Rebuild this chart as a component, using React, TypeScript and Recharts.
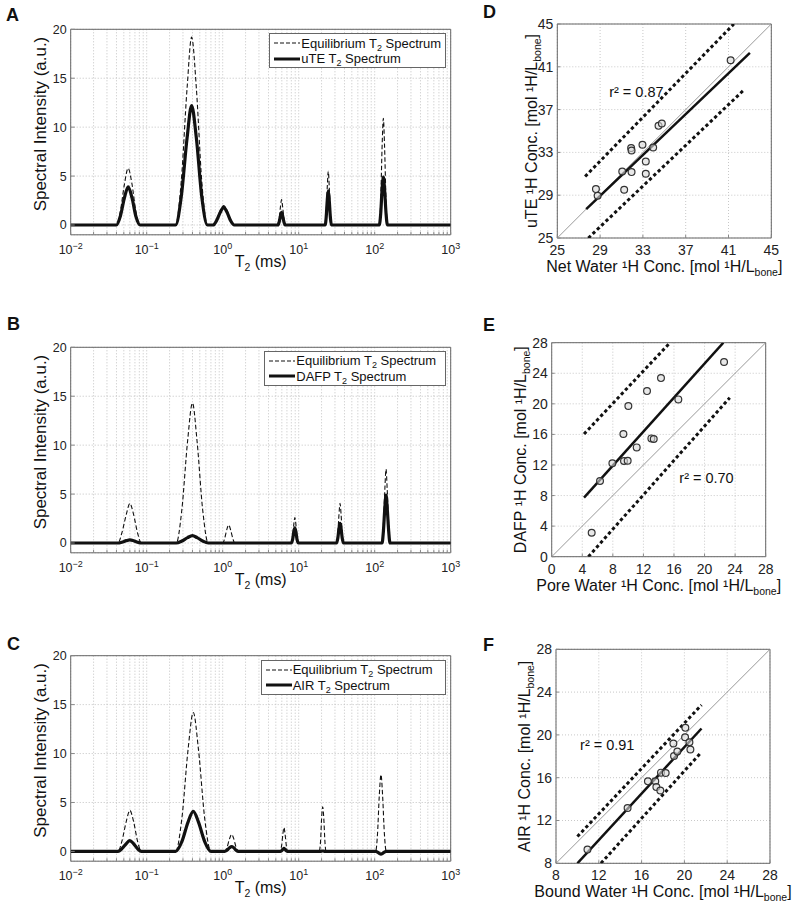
import React from "react";
import {
  LineChart,
  Line,
  ScatterChart,
  Scatter,
  XAxis,
  YAxis,
  CartesianGrid,
  ReferenceArea,
  ReferenceLine,
  Legend,
} from "recharts";

const FONT = "'Liberation Sans', Arial, Helvetica, sans-serif";

// ---- T2 spectra (T2 in ms, intensity in a.u.) ----
const T2_A = [0.01,
  0.040, 0.045, 0.051, 0.057, 0.064, 0.072, 0.082,
  0.24, 0.285, 0.34, 0.39, 0.45, 0.53, 0.63,
  0.75, 0.83, 0.93, 1.03, 1.14, 1.27, 1.42,
  5.33, 5.53, 5.76, 5.95, 6.14, 6.4, 6.6,
  22.3, 23.0, 23.8, 24.5, 25.2, 26.1, 26.9,
  115, 120, 125, 130, 135, 141, 147,
  1000];
const EQ_A = [0,
  0, 1.4, 4.2, 5.8, 4.2, 1.4, 0,
  0, 4.5, 14.0, 19.2, 14.0, 4.5, 0,
  0, 0.5, 1.5, 2.0, 1.5, 0.5, 0,
  0, 0.6, 1.9, 2.6, 1.9, 0.6, 0,
  0, 1.3, 4.0, 5.5, 4.0, 1.3, 0,
  0, 2.5, 7.9, 10.9, 7.9, 2.5, 0,
  0];
const UTE_A = [0,
  0, 0.9, 2.8, 3.9, 2.8, 0.9, 0,
  0, 2.9, 8.9, 12.2, 8.9, 2.9, 0,
  0, 0.45, 1.3, 1.8, 1.3, 0.45, 0,
  0, 0.3, 0.95, 1.3, 0.95, 0.3, 0,
  0, 0.8, 2.6, 3.5, 2.6, 0.8, 0,
  0, 1.2, 3.6, 4.9, 3.6, 1.2, 0,
  0];

const T2_B = [0.01,
  0.042, 0.047, 0.054, 0.060, 0.067, 0.076, 0.085,
  0.245, 0.29, 0.345, 0.40, 0.46, 0.545, 0.645,
  1.0, 1.06, 1.13, 1.2, 1.27, 1.36, 1.44,
  8.0, 8.33, 8.62, 8.9, 9.19, 9.5, 9.9,
  31.5, 32.7, 33.9, 35, 36.1, 37.4, 38.8,
  125, 130, 136, 141, 146, 153, 159,
  1000];
const EQ_B = [0,
  0, 1.0, 2.95, 4.05, 2.95, 1.0, 0,
  0, 3.4, 10.4, 14.3, 10.4, 3.4, 0,
  0, 0.45, 1.35, 1.85, 1.35, 0.45, 0,
  0, 0.6, 1.9, 2.6, 1.9, 0.6, 0,
  0, 0.95, 2.95, 4.05, 2.95, 0.95, 0,
  0, 1.8, 5.5, 7.55, 5.5, 1.8, 0,
  0];
const DAFP_B = [0,
  0, 0.08, 0.24, 0.32, 0.24, 0.08, 0,
  0, 0.2, 0.55, 0.75, 0.55, 0.2, 0,
  0, 0, 0, 0, 0, 0, 0,
  0, 0.38, 1.15, 1.55, 1.15, 0.38, 0,
  0, 0.48, 1.48, 2.0, 1.48, 0.48, 0,
  0, 1.15, 3.6, 4.9, 3.6, 1.15, 0,
  0];

const T2_C = [0.01,
  0.042, 0.047, 0.054, 0.060, 0.067, 0.076, 0.085,
  0.24, 0.29, 0.35, 0.41, 0.48, 0.58, 0.70,
  1.06, 1.14, 1.23, 1.31, 1.40, 1.5, 1.61,
  5.74, 5.96, 6.2, 6.4, 6.61, 6.87, 7.13,
  18.6, 19.4, 20.0, 20.7, 21.4, 22.1, 22.9,
  103, 109, 115, 121, 127, 134, 142,
  1000];
const EQ_C = [0,
  0, 1.0, 3.1, 4.2, 3.1, 1.0, 0,
  0, 3.35, 10.4, 14.2, 10.4, 3.35, 0,
  0, 0.42, 1.28, 1.75, 1.28, 0.42, 0,
  0, 0.6, 1.8, 2.45, 1.8, 0.6, 0,
  0, 1.08, 3.35, 4.55, 3.35, 1.08, 0,
  0, 1.85, 5.75, 7.85, 5.75, 1.85, 0,
  0];
const AIR_C = [0,
  0, 0.26, 0.8, 1.1, 0.8, 0.26, 0,
  0, 1.0, 3.0, 4.1, 3.0, 1.0, 0,
  0, 0.12, 0.37, 0.5, 0.37, 0.12, 0,
  0, 0.07, 0.22, 0.3, 0.22, 0.07, 0,
  0, 0, 0.03, 0.04, 0.03, 0, 0,
  0, -0.07, -0.2, -0.28, -0.2, -0.07, 0,
  0];

const DECADES = [0.01, 0.1, 1, 10, 100, 1000];
const MINOR = [1, 2, 3, 4, 5, 6, 7, 8, 9];
const LOG_TICKS = DECADES.flatMap((d) =>
  d === 1000 ? [d] : MINOR.map((m) => +(m * d).toPrecision(3))
);
const SPEC_Y_TICKS = [0, 5, 10, 15, 20];

// ---- concentration scatter panels [mol 1H / L_bone] ----
const D_X = [28.61, 28.77, 31.07, 31.25, 31.9, 31.94, 31.94, 32.96, 33.27, 33.27, 33.96, 34.46, 34.77, 41.2];
const D_Y = [29.57, 28.95, 31.22, 29.51, 33.4, 33.18, 31.16, 33.71, 32.15, 31.0, 33.46, 35.48, 35.7, 41.61];
const D_TICKS = [25, 29, 33, 37, 41, 45];
const D_FIT = [[27.7, 27.7], [43.0, 42.3]];
const D_UPPER = [[27.6, 30.75], [41.5, 45]];
const D_LOWER = [[27.9, 25], [42.4, 38.8]];

const E_X = [5.23, 6.32, 7.94, 9.38, 9.46, 9.94, 10.03, 11.12, 12.47, 13.04, 13.35, 14.3, 16.57, 22.55];
const E_Y = [3.14, 9.9, 12.21, 16.05, 12.52, 12.56, 19.71, 14.3, 21.67, 15.48, 15.39, 23.37, 20.58, 25.47];
const E_TICKS = [0, 4, 8, 12, 16, 20, 24, 28];
const E_FIT = [[4.23, 7.72], [22.46, 28]];
const E_UPPER = [[4.23, 16.05], [15.48, 28]];
const E_LOWER = [[4.8, 0], [23.3, 20.8]];

const F_X = [10.94, 14.69, 16.59, 17.28, 17.38, 17.75, 17.81, 18.25, 18.97, 19.03, 19.34, 20.06, 20.09, 20.47, 20.56];
const F_Y = [9.28, 13.16, 15.66, 15.66, 15.13, 14.81, 16.47, 16.44, 19.19, 18.03, 18.44, 19.78, 20.66, 19.31, 18.63];
const F_TICKS = [8, 12, 16, 20, 24, 28];
const F_FIT = [[10.0, 8.0], [21.6, 20.6]];
const F_UPPER = [[10.0, 10.5], [21.6, 22.8]];
const F_LOWER = [[12.2, 8.0], [21.6, 18.4]];

const PLOT_H = 205.5;
const SQ = 214;
const TICK_LINE = { stroke: "#888", strokeWidth: 1 };

function LogTick(props: any) {
  const { x, y, payload } = props;
  const lg = Math.log10(payload.value);
  const e = Math.round(lg);
  if (Math.abs(lg - e) > 1e-6) return <g />;
  return (
    <text x={x} y={y} dy="0.71em" textAnchor="middle" fontSize={12.5} fill="#222" fontFamily={FONT}>
      10<tspan dy={-5} fontSize={9}>{e < 0 ? "\u2212" + -e : e}</tspan>
    </text>
  );
}

function SpecLegend({ name, width }: { name: string; width: number }) {
  const row = { display: "flex", alignItems: "center", height: 15.6 } as const;
  const sub = { fontSize: 9, position: "relative", top: 3 } as const;
  return (
    <div
      style={{
        width,
        boxSizing: "border-box",
        border: "1px solid #666",
        background: "#fff",
        padding: "1px 0 1px 4px",
        fontFamily: FONT,
        fontSize: 13,
        color: "#111",
        whiteSpace: "nowrap",
      }}
    >
      <div style={row}>
        <svg width={27} height={6}>
          <line x1={0} y1={3} x2={26} y2={3} stroke="#111" strokeWidth={1.1} strokeDasharray="4 2" />
        </svg>
        <span>
          Equilibrium T<span style={sub}>2</span> Spectrum
        </span>
      </div>
      <div style={row}>
        <svg width={27} height={6}>
          <line x1={0} y1={3} x2={26} y2={3} stroke="#111" strokeWidth={3} />
        </svg>
        <span>
          {name} T<span style={sub}>2</span> Spectrum
        </span>
      </div>
    </div>
  );
}

function PanelLetter({ letter, left, top }: { letter: string; left: number; top: number }) {
  return (
    <div style={{ position: "absolute", left, top, font: `bold 18px ${FONT}`, lineHeight: 1, color: "#111" }}>
      {letter}
    </div>
  );
}

function SpectrumPanel(props: {
  top: number;
  plotTop: number;
  t: number[];
  eq: number[];
  sub: number[];
  subName: string;
  legendLeft: number;
  legendTop: number;
  legendWidth: number;
}) {
  const { top, plotTop, t, eq, sub, subName, legendLeft, legendTop, legendWidth } = props;
  const rows = t.map((v, i) => ({ t: v, eq: eq[i], sub: sub[i] }));
  const height = plotTop + PLOT_H + 45;
  const midY = plotTop + PLOT_H / 2;
  return (
    <div style={{ position: "absolute", left: 0, top, width: 470, height }}>
      <LineChart width={470} height={height} data={rows} margin={{ top: plotTop, right: 19.3, bottom: 5, left: 0 }}>
        <CartesianGrid stroke="#c2c2c2" strokeDasharray="1 2" />
        <XAxis
          dataKey="t"
          type="number"
          scale="log"
          domain={[0.01, 1000]}
          ticks={LOG_TICKS}
          interval={0}
          allowDataOverflow
          tick={(p: any) => <LogTick {...p} />}
          tickLine={TICK_LINE}
          axisLine={false}
          tickSize={-3}
          tickMargin={13}
          height={40}
          label={() => (
            <text x={260.7} y={plotTop + PLOT_H + 32} textAnchor="middle" fontSize={16} fill="#111" fontFamily={FONT}>
              T<tspan dy={4} fontSize={10.5}>2</tspan>
              <tspan dy={-4}> (ms)</tspan>
            </text>
          )}
        />
        <YAxis
          type="number"
          domain={[-1, 20]}
          ticks={SPEC_Y_TICKS}
          width={70.7}
          tickLine={TICK_LINE}
          axisLine={false}
          tickSize={-4}
          tickMargin={8}
          tick={{ fontSize: 12.5, fill: "#222", fontFamily: FONT }}
          label={() => (
            <text
              transform={`translate(45.5, ${midY - 8}) rotate(-90)`}
              textAnchor="middle"
              fontSize={17}
              fill="#111"
              fontFamily={FONT}
            >
              Spectral Intensity (a.u.)
            </text>
          )}
        />
        <ReferenceArea x1={0.01} x2={1000} y1={-1} y2={20} fill="none" stroke="#666" strokeWidth={1} ifOverflow="visible" />
        <Line dataKey="eq" type="monotone" stroke="#111" strokeWidth={1.1} strokeDasharray="4.5 2.5" dot={false} isAnimationActive={false} />
        <Line dataKey="sub" type="monotone" stroke="#111" strokeWidth={3.2} dot={false} isAnimationActive={false} />
        <Legend
          layout="vertical"
          align="center"
          verticalAlign="middle"
          wrapperStyle={{ left: legendLeft, top: legendTop, width: legendWidth, bottom: "auto", right: "auto" }}
          content={() => <SpecLegend name={subName} width={legendWidth} />}
        />
      </LineChart>
    </div>
  );
}

function ScatterPanel(props: {
  top: number;
  plotLeft: number;
  plotTop: number;
  lo: number;
  hi: number;
  ticks: number[];
  xs: number[];
  ys: number[];
  fit: number[][];
  upper: number[][];
  lower: number[][];
  r2: number[];
  r2Text: string;
  xLabel: string;
  yLabel: string;
  yLabelX: number;
}) {
  const { top, plotLeft, plotTop, lo, hi, ticks, xs, ys, fit, upper, lower, r2, r2Text, xLabel, yLabel, yLabelX } = props;
  const pts = xs.map((x, i) => ({ x, y: ys[i] }));
  const height = plotTop + SQ + 45;
  const midX = plotLeft + SQ / 2;
  const midY = plotTop + SQ / 2;
  const seg = (s: number[][]) => [
    { x: s[0][0], y: s[0][1] },
    { x: s[1][0], y: s[1][1] },
  ];
  return (
    <div style={{ position: "absolute", left: 470, top, width: 330, height }}>
      <ScatterChart width={330} height={height} margin={{ top: plotTop, right: 330 - plotLeft - SQ, bottom: 5, left: 0 }}>
        <CartesianGrid stroke="#c8c8c8" strokeDasharray="1 2" />
        <XAxis
          dataKey="x"
          type="number"
          domain={[lo, hi]}
          ticks={ticks}
          interval={0}
          allowDataOverflow
          tickLine={TICK_LINE}
          axisLine={false}
          tickSize={-3}
          tickMargin={10}
          height={40}
          tick={{ fontSize: 14, fill: "#222", fontFamily: FONT }}
          label={() => (
            <text x={midX} y={plotTop + SQ + 34} textAnchor="middle" fontSize={16} fill="#111" fontFamily={FONT}>
              {xLabel}
              <tspan dy={4} fontSize={10.5}>bone</tspan>
              <tspan dy={-4}>]</tspan>
            </text>
          )}
        />
        <YAxis
          dataKey="y"
          type="number"
          domain={[lo, hi]}
          ticks={ticks}
          interval={0}
          allowDataOverflow
          width={plotLeft}
          tickLine={TICK_LINE}
          axisLine={false}
          tickSize={-3}
          tickMargin={7}
          tick={{ fontSize: 14, fill: "#222", fontFamily: FONT }}
          label={() => (
            <text
              transform={`translate(${yLabelX}, ${midY}) rotate(-90)`}
              textAnchor="middle"
              fontSize={16}
              fill="#111"
              fontFamily={FONT}
            >
              {yLabel}
              <tspan dy={4} fontSize={10.5}>bone</tspan>
              <tspan dy={-4}>]</tspan>
            </text>
          )}
        />
        <ReferenceArea x1={lo} x2={hi} y1={lo} y2={hi} fill="none" stroke="#666" strokeWidth={1} ifOverflow="visible" />
        <ReferenceLine segment={[{ x: lo, y: lo }, { x: hi, y: hi }]} stroke="#999" strokeWidth={1} ifOverflow="hidden" />
        <ReferenceLine segment={seg(upper)} stroke="#111" strokeWidth={3} strokeDasharray="3.3 2.7" ifOverflow="hidden" />
        <ReferenceLine segment={seg(lower)} stroke="#111" strokeWidth={3} strokeDasharray="3.3 2.7" ifOverflow="hidden" />
        <ReferenceLine segment={seg(fit)} stroke="#111" strokeWidth={2.5} ifOverflow="hidden" />
        <Scatter
          data={pts}
          isAnimationActive={false}
          shape={(p: any) => (
            <circle cx={p.cx} cy={p.cy} r={3.4} fill="#d8d8d8" fillOpacity={0.6} stroke="#333" strokeWidth={1.2} />
          )}
        />
        <Scatter
          data={[{ x: r2[0], y: r2[1] }]}
          isAnimationActive={false}
          shape={(p: any) => (
            <text x={p.cx} y={p.cy} fontSize={14.5} fill="#111" fontFamily={FONT}>
              {r2Text}
            </text>
          )}
        />
      </ScatterChart>
    </div>
  );
}

export default function App() {
  return (
    <div style={{ position: "absolute", left: 0, top: 0, width: 800, height: 909, background: "#fff", overflow: "hidden" }}>
      <SpectrumPanel top={0} plotTop={29.3} t={T2_A} eq={EQ_A} sub={UTE_A} subName="uTE" legendLeft={269.3} legendTop={33.3} legendWidth={177} />
      <SpectrumPanel top={290} plotTop={57.3} t={T2_B} eq={EQ_B} sub={DAFP_B} subName="DAFP" legendLeft={264.3} legendTop={61} legendWidth={182} />
      <SpectrumPanel top={590} plotTop={65.7} t={T2_C} eq={EQ_C} sub={AIR_C} subName="AIR" legendLeft={260.7} legendTop={70} legendWidth={185.5} />

      <ScatterPanel
        top={0} plotLeft={87.3} plotTop={24} lo={25} hi={45} ticks={D_TICKS}
        xs={D_X} ys={D_Y} fit={D_FIT} upper={D_UPPER} lower={D_LOWER}
        r2={[29.85, 38.2]} r2Text={"r\u00b2 = 0.87"}
        xLabel={"Net Water \u00b9H Conc. [mol \u00b9H/L"} yLabel={"uTE \u00b9H Conc. [mol \u00b9H/L"} yLabelX={66.5}
      />
      <ScatterPanel
        top={290} plotLeft={81.7} plotTop={52.7} lo={0} hi={28} ticks={E_TICKS}
        xs={E_X} ys={E_Y} fit={E_FIT} upper={E_UPPER} lower={E_LOWER}
        r2={[16.7, 9.68]} r2Text={"r\u00b2 = 0.70"}
        xLabel={"Pore Water \u00b9H Conc. [mol \u00b9H/L"} yLabel={"DAFP \u00b9H Conc. [mol \u00b9H/L"} yLabelX={56}
      />
      <ScatterPanel
        top={590} plotLeft={86} plotTop={59.3} lo={8} hi={28} ticks={F_TICKS}
        xs={F_X} ys={F_Y} fit={F_FIT} upper={F_UPPER} lower={F_LOWER}
        r2={[10.25, 18.56]} r2Text={"r\u00b2 = 0.91"}
        xLabel={"Bound Water \u00b9H Conc. [mol \u00b9H/L"} yLabel={"AIR \u00b9H Conc. [mol \u00b9H/L"} yLabelX={60}
      />

      <PanelLetter letter="A" left={6} top={5.7} />
      <PanelLetter letter="B" left={7} top={314.7} />
      <PanelLetter letter="C" left={7} top={634.7} />
      <PanelLetter letter="D" left={483} top={2.7} />
      <PanelLetter letter="E" left={483} top={315.7} />
      <PanelLetter letter="F" left={483} top={635.7} />
    </div>
  );
}
